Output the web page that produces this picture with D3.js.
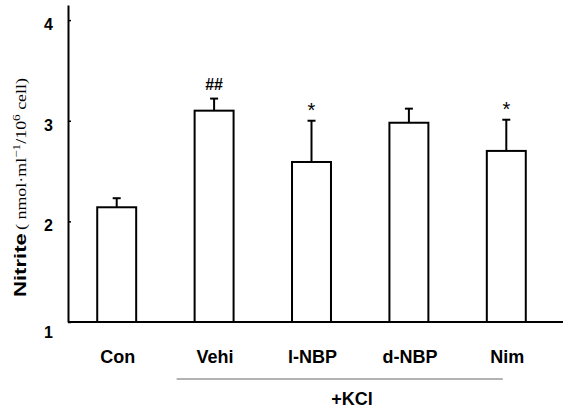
<!DOCTYPE html>
<html>
<head>
<meta charset="utf-8">
<script src="https://cdn.jsdelivr.net/npm/d3@7"></script>
<style>
  body { margin: 0; background: #fff; }
  svg { display: block; }
</style>
</head>
<body>
<svg id="chart"></svg>
<script>
var width = 563;
var height = 411;

var groups = ["Con", "Vehi", "l-NBP", "d-NBP", "Nim"];
var means = [2.14, 3.10, 2.59, 2.98, 2.70];
var errors = [0.09, 0.12, 0.41, 0.14, 0.31];
var marks = ["", "##", "*", "", "*"];
var yTicks = [1, 2, 3, 4];

var axisX = 68;
var baseY = 322;

var x = d3.scaleBand()
  .domain(groups)
  .range([axisX, 555])
  .paddingInner(0.6)
  .paddingOuter(0.3);

var y = d3.scaleLinear()
  .domain([1, 4.15])
  .range([baseY, 5]);

var svg = d3.select("#chart")
  .attr("width", width)
  .attr("height", height);

var data = groups.map(function(g, i) {
  return { name: g, mean: means[i], err: errors[i], mark: marks[i] };
});

// error bars, upper half only
svg.selectAll("line.err")
  .data(data)
  .enter()
    .append("line")
      .attr("class", "err")
      .attr("x1", function(d) { return x(d.name) + x.bandwidth() / 2; })
      .attr("x2", function(d) { return x(d.name) + x.bandwidth() / 2; })
      .attr("y1", function(d) { return y(d.mean); })
      .attr("y2", function(d) { return y(d.mean + d.err); })
      .attr("stroke", "#000")
      .attr("stroke-width", 2);

svg.selectAll("line.cap")
  .data(data)
  .enter()
    .append("line")
      .attr("class", "cap")
      .attr("x1", function(d) { return x(d.name) + x.bandwidth() / 2 - 4; })
      .attr("x2", function(d) { return x(d.name) + x.bandwidth() / 2 + 4; })
      .attr("y1", function(d) { return y(d.mean + d.err); })
      .attr("y2", function(d) { return y(d.mean + d.err); })
      .attr("stroke", "#000")
      .attr("stroke-width", 2);

svg.selectAll("rect.bar")
  .data(data)
  .enter()
    .append("rect")
      .attr("class", "bar")
      .attr("x", function(d) { return x(d.name); })
      .attr("y", function(d) { return y(d.mean); })
      .attr("width", x.bandwidth())
      .attr("height", function(d) { return y(1) - y(d.mean); })
      .attr("fill", "#fff")
      .attr("stroke", "#000")
      .attr("stroke-width", 2);

// significance marks
svg.selectAll("text.mark")
  .data(data.filter(function(d) { return d.mark; }))
  .enter()
    .append("text")
      .attr("class", "mark")
      .attr("x", function(d) { return x(d.name) + x.bandwidth() / 2; })
      .attr("y", function(d) { return y(d.mean + d.err) - (d.mark === "*" ? 4 : 9); })
      .attr("text-anchor", "middle")
      .style("font-family", "Arial, sans-serif")
      .style("font-weight", function(d) { return d.mark === "*" ? "normal" : "bold"; })
      .style("font-size", function(d) { return d.mark === "*" ? "20px" : "16px"; })
      .text(function(d) { return d.mark; });

// y axis
var yAxis = svg.append("g")
  .attr("transform", "translate(" + axisX + ",0)")
  .call(d3.axisLeft(y).tickValues(yTicks).tickFormat(d3.format("d"))
    .tickSizeInner(-3).tickSizeOuter(0).tickPadding(15));
yAxis.select(".domain").attr("stroke", "#000").attr("stroke-width", 2);
yAxis.selectAll(".tick line").attr("stroke", "#000").attr("stroke-width", 1.5);
yAxis.selectAll(".tick text")
  .attr("fill", "#000")
  .style("font-family", "Arial, sans-serif")
  .style("font-weight", "bold")
  .style("font-size", "16px")
  .attr("dy", function(d) { return d === 1 ? "0.95em" : "0.6em"; });

// x axis line
svg.append("line")
  .attr("x1", axisX)
  .attr("x2", width)
  .attr("y1", y(1))
  .attr("y2", y(1))
  .attr("stroke", "#000")
  .attr("stroke-width", 2);

svg.selectAll("text.cat")
  .data(groups)
  .enter()
    .append("text")
      .attr("class", "cat")
      .attr("x", function(d) { return x(d) + x.bandwidth() / 2 + 1; })
      .attr("y", 363)
      .attr("text-anchor", "middle")
      .style("font-family", "Arial, sans-serif")
      .style("font-weight", "bold")
      .style("font-size", "18px")
      .text(function(d) { return d; });

// +KCl bracket
svg.append("line")
  .attr("x1", x("Vehi") - 18)
  .attr("x2", x("Nim") + 16)
  .attr("y1", 379)
  .attr("y2", 379)
  .attr("stroke", "#666")
  .attr("stroke-width", 1);

svg.append("text")
  .attr("x", 352)
  .attr("y", 405)
  .attr("text-anchor", "middle")
  .style("font-family", "Arial, sans-serif")
  .style("font-weight", "bold")
  .style("font-size", "18px")
  .text("+KCl");

// y label: bold word stretched like the original, unit in serif after it
svg.append("text")
  .attr("transform", "translate(26,297) rotate(-90) scale(1.3,1)")
  .style("font-family", "Arial, sans-serif")
  .style("font-weight", "bold")
  .style("font-size", "17px")
  .text("Nitrite");

var unit = svg.append("text")
  .attr("transform", "translate(26,230) rotate(-90)")
  .attr("textLength", 152)
  .attr("lengthAdjust", "spacingAndGlyphs")
  .style("font-family", "'Liberation Serif', 'DejaVu Serif', serif")
  .style("font-size", "15px");
unit.append("tspan").text("( nmol\u00b7ml");
unit.append("tspan").attr("baseline-shift", "super").style("font-size", "11px").text("\u22121");
unit.append("tspan").text("/10");
unit.append("tspan").attr("baseline-shift", "super").style("font-size", "11px").text("6");
unit.append("tspan").text(" cell)");
</script>
</body>
</html>
